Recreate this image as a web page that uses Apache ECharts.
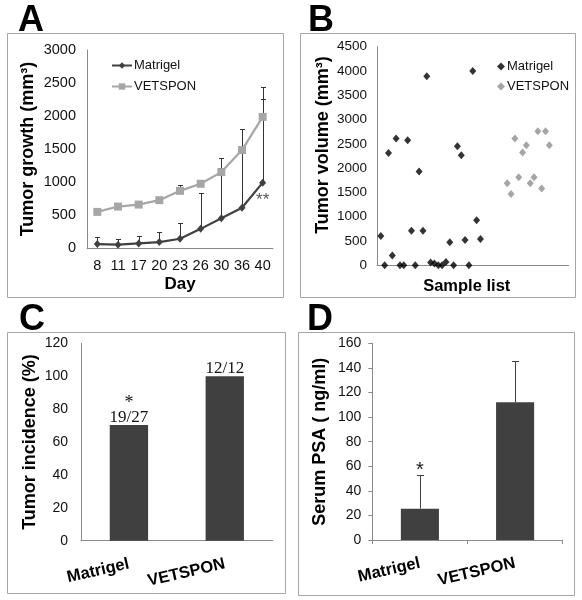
<!DOCTYPE html>
<html><head><meta charset="utf-8">
<script src="https://cdn.jsdelivr.net/npm/echarts@6/dist/echarts.min.js"></script>
<style>html,body{margin:0;padding:0;background:#fff;}#c{width:582px;height:600px;}</style>
</head><body><div id="c"></div>
<script>
// ---- Panel A: tumor growth over days ----
const days = ['8', '11', '17', '20', '23', '26', '30', '36', '40'];
const growthMatrigel = [60, 50, 70, 90, 140, 290, 450, 610, 990];
const growthMatrigelTop = [172, 141, 182, 243, 375, 836, 1368, 1804, 2442];
const growthVetspon = [547, 628, 658, 725, 866, 973, 1150, 1484, 1986];
const growthVetsponTop = [547, 679, 709, 735, 947, 1033, 1211, 1484, 2260];

// ---- Panel B: tumor volume per sample ----
const sampleMatrigel = [1,2,3,4,5,6,7,8,9,10,11,12,13,14,15,16,17,18,19,20,21,22,23,24,25,26,27];
const volumeMatrigel = [603,0,2310,200,2610,0,0,2575,712,0,1930,712,3890,60,35,0,0,70,475,0,2450,2265,520,0,4000,925,540];
const sampleVetspon = [34,35,36,37,38,39,40,41,42,43,44,45];
const volumeVetspon = [1690,1470,2610,1810,2320,2470,1690,1810,2760,1580,2760,2470];

// ---- Panel C: tumor incidence ----
const groups = ['Matrigel', 'VETSPON'];
const incidence = [70.4, 100];
const incidenceLabels = ['19/27', '12/12'];
const incidenceSig = ['*', ''];

// ---- Panel D: serum PSA ----
const psa = [25.5, 112];
const psaTop = [52.9, 145.6];
const psaSig = ['*', ''];

const FONT = "'Liberation Sans', Arial, sans-serif";
const AXIS = '#8a8a8a';
const TXT = '#111';
const plain = v => String(v);

function errRender(capHalf, color, marks) {
  return function (params, api) {
    const x = api.value(0), v = api.value(1), t = api.value(2);
    const children = [];
    const p0 = api.coord([x, v]);
    const p1 = api.coord([x, t]);
    if (t > v) {
      const xx = Math.round(p0[0]) + 0.5;
      const yy = Math.round(p1[1]) + 0.5;
      children.push({type: 'line', shape: {x1: xx, y1: p0[1], x2: xx, y2: yy}, style: {stroke: color, lineWidth: 1}});
      children.push({type: 'line', shape: {x1: xx - capHalf, y1: yy, x2: xx + capHalf, y2: yy}, style: {stroke: color, lineWidth: 1}});
    }
    if (marks && marks[params.dataIndex]) {
      children.push({type: 'text', style: {text: marks[params.dataIndex], x: p1[0], y: p1[1] + 6, align: 'center', verticalAlign: 'bottom', font: '20px ' + FONT, fill: '#222'}});
    }
    return {type: 'group', children: children};
  };
}

const chart = echarts.init(document.getElementById('c'), null, {renderer: 'canvas'});

function frame(x, y, w, h) {
  return {type: 'rect', shape: {x: x + 0.5, y: y + 0.5, width: w, height: h}, style: {fill: 'none', stroke: '#a6a6a6', lineWidth: 1}, z: 0};
}
function letter(t, x, y) {
  return {type: 'text', style: {text: t, x: x, y: y, font: 'bold 36px ' + FONT, fill: '#000', verticalAlign: 'top'}, z: 10};
}

const option = {
  animation: false,
  backgroundColor: '#fff',
  textStyle: {fontFamily: FONT},
  graphic: [
    frame(7, 33, 276, 264), frame(300, 33, 275, 264),
    frame(7, 332, 278, 261), frame(298, 332, 276, 263),
    letter('A', 18, 3), letter('B', 308, 3), letter('C', 19, 302), letter('D', 307, 302)
  ],
  legend: [
    {data: ['Matrigel', 'VETSPON'], orient: 'vertical', left: 106, top: 54, itemWidth: 20, itemHeight: 8, itemGap: 8,
     textStyle: {fontSize: 13, color: TXT, fontFamily: FONT, padding: [0, 0, 0, -3]}},
    {data: ['Matrigel ', 'VETSPON '], orient: 'vertical', left: 492, top: 55, itemWidth: 8, itemHeight: 8, itemGap: 7,
     textStyle: {fontSize: 13, color: TXT, fontFamily: FONT, padding: [0, 0, 0, -3]}, formatter: n => n.trim()}
  ],
  grid: [
    {left: 87, top: 50, width: 186, height: 198},
    {left: 377, top: 46.7, width: 191.5, height: 218.6},
    {left: 81, top: 343.3, width: 191.7, height: 197.4},
    {left: 372.3, top: 343.3, width: 190.4, height: 196.7}
  ],
  xAxis: [
    {type: 'category', gridIndex: 0, data: days, boundaryGap: true,
     axisLine: {lineStyle: {color: AXIS}}, axisTick: {show: false},
     axisLabel: {fontSize: 14.5, color: TXT, margin: 10, interval: 0},
     name: 'Day', nameLocation: 'middle', nameGap: 28,
     nameTextStyle: {fontSize: 17, fontWeight: 'bold', color: '#000'}},
    {type: 'value', gridIndex: 1, min: 0, max: 50,
     axisLine: {show: true, lineStyle: {color: AXIS}}, axisTick: {show: false}, axisLabel: {show: false}, splitLine: {show: false},
     name: 'Sample list', nameLocation: 'middle', nameGap: 13,
     nameTextStyle: {fontSize: 16.5, fontWeight: 'bold', color: '#000', padding: [0, 12, 0, 0]}},
    {type: 'category', gridIndex: 2, data: groups,
     axisLine: {lineStyle: {color: AXIS}}, axisTick: {show: false},
     axisLabel: {rotate: 13, margin: 23, fontSize: 16.5, fontWeight: 'bold', color: '#000', interval: 0}},
    {type: 'category', gridIndex: 3, data: groups,
     axisLine: {lineStyle: {color: AXIS}}, axisTick: {show: true, length: 4, lineStyle: {color: AXIS}},
     axisLabel: {rotate: 13, margin: 23, fontSize: 16.5, fontWeight: 'bold', color: '#000', interval: 0}}
  ],
  yAxis: [
    {type: 'value', gridIndex: 0, min: 0, max: 3000, interval: 500,
     axisLine: {show: true, lineStyle: {color: AXIS}}, axisTick: {show: false}, splitLine: {show: false},
     axisLabel: {fontSize: 14.5, color: TXT, margin: 11, formatter: plain},
     name: 'Tumor growth (mm³)', nameLocation: 'middle', nameGap: 50,
     nameTextStyle: {fontSize: 18, fontWeight: 'bold', color: '#000'}},
    {type: 'value', gridIndex: 1, min: 0, max: 4500, interval: 500,
     axisLine: {show: true, lineStyle: {color: AXIS}}, axisTick: {show: false}, splitLine: {show: false},
     axisLabel: {fontSize: 13.5, color: TXT, margin: 10, formatter: plain},
     name: 'Tumor volume (mm³)', nameLocation: 'middle', nameGap: 45,
     nameTextStyle: {fontSize: 18, fontWeight: 'bold', color: '#000', padding: [0, 0, 0, 22]}},
    {type: 'value', gridIndex: 2, min: 0, max: 120, interval: 20,
     axisLine: {show: true, lineStyle: {color: AXIS}}, axisTick: {show: false}, splitLine: {show: false},
     axisLabel: {fontSize: 14, color: TXT, margin: 13, formatter: plain},
     name: 'Tumor incidence (%)', nameLocation: 'middle', nameGap: 42,
     nameTextStyle: {fontSize: 18, fontWeight: 'bold', color: '#000'}},
    {type: 'value', gridIndex: 3, min: 0, max: 160, interval: 20,
     axisLine: {show: true, lineStyle: {color: AXIS}}, axisTick: {show: true, length: 4, lineStyle: {color: AXIS}}, splitLine: {show: false},
     axisLabel: {fontSize: 14, color: TXT, margin: 11, formatter: plain},
     name: 'Serum PSA ( ng/ml)', nameLocation: 'middle', nameGap: 43,
     nameTextStyle: {fontSize: 18, fontWeight: 'bold', color: '#000'}}
  ],
  series: [
    // Panel A error bars
    {type: 'custom', xAxisIndex: 0, yAxisIndex: 0, z: 1, silent: true,
     renderItem: errRender(2.5, '#333'),
     data: growthMatrigel.map((v, i) => [i, v, growthMatrigelTop[i]])},
    {type: 'custom', xAxisIndex: 0, yAxisIndex: 0, z: 1, silent: true,
     renderItem: errRender(2.5, '#333'),
     data: growthVetspon.map((v, i) => [i, v, growthVetsponTop[i]])},
    {name: 'Matrigel', type: 'line', xAxisIndex: 0, yAxisIndex: 0, z: 3,
     data: growthMatrigel.map((v, i) => i === growthMatrigel.length - 1
       ? {value: v, label: {show: true, position: 'bottom', distance: 5, formatter: '**', fontSize: 17, color: '#555'}} : v),
     symbol: 'diamond', symbolSize: [7, 8], color: '#404040',
     lineStyle: {width: 2.2, color: '#404040'}, itemStyle: {color: '#404040'}},
    {name: 'VETSPON', type: 'line', xAxisIndex: 0, yAxisIndex: 0, z: 2,
     data: growthVetspon, symbol: 'rect', symbolSize: 8, color: '#a6a6a6',
     lineStyle: {width: 2.2, color: '#a6a6a6'}, itemStyle: {color: '#a6a6a6'}},
    // Panel B
    {name: 'Matrigel ', type: 'scatter', xAxisIndex: 1, yAxisIndex: 1,
     data: sampleMatrigel.map((s, i) => [s, volumeMatrigel[i]]),
     symbol: 'diamond', symbolSize: [7, 8], itemStyle: {color: '#000'}},
    {name: 'VETSPON ', type: 'scatter', xAxisIndex: 1, yAxisIndex: 1,
     data: sampleVetspon.map((s, i) => [s, volumeVetspon[i]]),
     symbol: 'diamond', symbolSize: [7, 8], itemStyle: {color: '#8f8f8f'}},
    // Panel C
    {type: 'bar', xAxisIndex: 2, yAxisIndex: 2, data: incidence, barWidth: '40%',
     itemStyle: {color: '#404040'},
     label: {show: true, position: 'top', distance: -1,
       formatter: p => (incidenceSig[p.dataIndex] ? '{s|' + incidenceSig[p.dataIndex] + '}\n' : '') + '{n|' + incidenceLabels[p.dataIndex] + '}',
       rich: {s: {fontFamily: "'Liberation Serif', 'Times New Roman', serif", fontSize: 18, lineHeight: 12, color: '#111', align: 'center'},
              n: {fontFamily: "'Liberation Serif', 'Times New Roman', serif", fontSize: 17, lineHeight: 17, color: '#111', align: 'center'}}}},
    // Panel D
    {type: 'bar', xAxisIndex: 3, yAxisIndex: 3, data: psa, barWidth: '40%', itemStyle: {color: '#404040'}},
    {type: 'custom', xAxisIndex: 3, yAxisIndex: 3, z: 3, silent: true,
     renderItem: errRender(3.5, '#404040', psaSig),
     data: psa.map((v, i) => [i, v, psaTop[i]])}
  ]
};
chart.setOption(option);
</script>
</body></html>
